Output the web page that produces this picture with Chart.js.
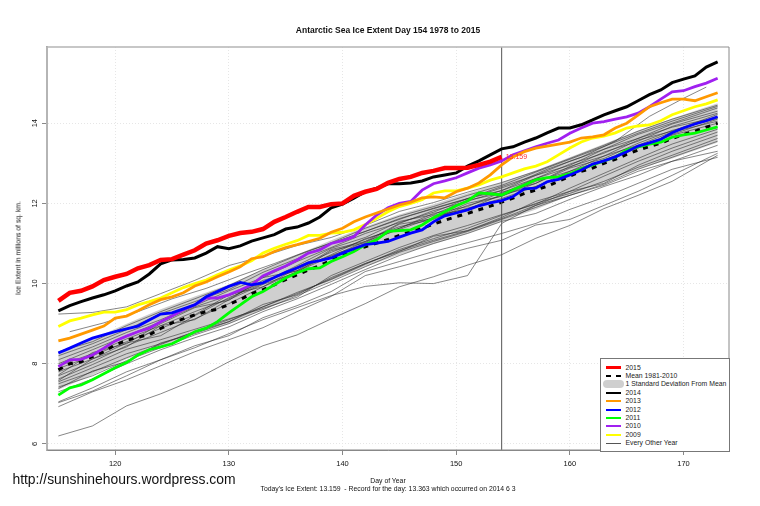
<!DOCTYPE html>
<html>
<head>
<meta charset="utf-8">
<script src="https://cdn.jsdelivr.net/npm/chart.js@4"></script>
<style>
  html, body { margin: 0; background: #fff; }
  #wrap { position: relative; width: 760px; height: 506px; overflow: hidden; font-family: "Liberation Sans", Arial, sans-serif; color: #111; }
  canvas { position: absolute; left: 0; top: 0; }
  .txt { position: absolute; white-space: pre; transform: translate(-50%, -50%); }
  #legend { position: absolute; left: 600px; top: 358px; width: 128px; height: 92px; background: #fff; border: 1px solid #777; }
  #legend .row { position: absolute; left: 24.5px; font-size: 6.85px; line-height: 8px; color: #222; white-space: pre; }
  #legend .sw { position: absolute; left: 5px; width: 15px; }
</style>
</head>
<body>
<div id="wrap">
  <canvas id="c" width="760" height="506"></canvas>
  <div class="txt" style="left:388px;top:30px;font-size:8.5px;font-weight:bold">Antarctic Sea Ice Extent Day 154 1978 to 2015</div>
  <div class="txt" style="left:18px;top:248px;font-size:6.85px;transform:translate(-50%,-50%) rotate(-90deg)">Ice Extent in millions of sq. km.</div>
  <div class="txt" style="left:388px;top:480px;font-size:6.85px">Day of Year</div>
  <div class="txt" style="left:388px;top:488px;font-size:6.85px">Today's Ice Extent: 13.159  - Record for the day: 13.363 which occurred on 2014 6 3</div>
  <div class="txt" style="left:124px;top:479px;font-size:13.9px">http://sunshinehours.wordpress.com</div>
  <div id="legend"></div>
</div>
<script>
/* thick lines: one value per day */
const days = [115,116,117,118,119,120,121,122,123,124,125,126,127,128,129,130,131,132,133,134,135,136,137,138,139,140,141,142,143,144,145,146,147,148,149,150,151,152,153,154,155,156,157,158,159,160,161,162,163,164,165,166,167,168,169,170,171,172,173];
const y2015 = [9.57,9.77,9.82,9.93,10.09,10.17,10.24,10.38,10.46,10.59,10.61,10.72,10.83,11.0,11.08,11.19,11.26,11.29,11.36,11.54,11.66,11.79,11.91,11.91,11.98,12.0,12.19,12.29,12.36,12.51,12.61,12.66,12.76,12.81,12.88,12.88,12.89,12.96,13.04,13.159];
const y2014 = [9.32,9.45,9.55,9.64,9.72,9.82,9.94,10.04,10.24,10.49,10.59,10.6,10.64,10.76,10.92,10.87,10.94,11.06,11.14,11.22,11.36,11.41,11.51,11.66,11.89,11.98,12.13,12.29,12.38,12.49,12.49,12.51,12.56,12.66,12.71,12.76,12.93,13.06,13.21,13.36,13.41,13.53,13.63,13.76,13.88,13.88,13.96,14.08,14.21,14.31,14.41,14.56,14.71,14.83,15.01,15.1,15.18,15.4,15.53];
const y2013 = [8.57,8.64,8.74,8.84,8.94,9.14,9.19,9.32,9.47,9.6,9.67,9.77,9.94,10.04,10.17,10.29,10.42,10.62,10.67,10.8,10.9,10.97,11.05,11.13,11.28,11.38,11.54,11.66,11.76,11.86,11.96,12.03,12.14,12.16,12.14,12.29,12.38,12.51,12.71,12.96,13.16,13.29,13.38,13.43,13.48,13.53,13.63,13.66,13.71,13.88,14.0,14.2,14.41,14.51,14.6,14.6,14.56,14.66,14.76];
const y2012 = [8.27,8.39,8.52,8.64,8.72,8.8,8.87,8.94,9.09,9.24,9.27,9.37,9.47,9.67,9.8,9.93,10.03,9.97,10.02,10.15,10.28,10.39,10.52,10.57,10.64,10.76,10.87,10.97,11.01,11.05,11.16,11.26,11.34,11.54,11.69,11.76,11.84,11.94,12.01,12.07,12.17,12.36,12.38,12.54,12.6,12.71,12.83,12.98,13.06,13.16,13.29,13.43,13.51,13.6,13.76,13.88,13.98,14.06,14.16];
const y2011 = [7.22,7.4,7.47,7.6,7.75,7.9,8.03,8.22,8.35,8.42,8.5,8.64,8.8,8.89,9.05,9.27,9.47,9.67,9.8,9.97,10.14,10.27,10.37,10.39,10.55,10.67,10.8,10.97,11.09,11.3,11.32,11.34,11.46,11.64,11.79,11.94,12.06,12.26,12.24,12.21,12.34,12.46,12.59,12.64,12.66,12.74,12.86,12.96,13.06,13.15,13.33,13.41,13.48,13.53,13.65,13.71,13.75,13.83,13.91];
const y2010 = [7.93,8.1,8.11,8.22,8.39,8.57,8.69,8.8,8.89,9.05,9.19,9.35,9.47,9.64,9.64,9.72,9.84,9.97,10.19,10.32,10.44,10.59,10.76,10.84,11.0,11.07,11.17,11.46,11.71,11.89,12.0,12.05,12.33,12.49,12.56,12.64,12.76,12.88,12.96,13.06,13.21,13.31,13.41,13.5,13.58,13.75,13.88,14.0,14.04,14.1,14.16,14.25,14.41,14.6,14.78,14.81,14.91,15.0,15.12];
const y2009 = [8.93,9.07,9.14,9.22,9.29,9.29,9.35,9.47,9.55,9.64,9.77,9.9,10.0,10.09,10.22,10.34,10.44,10.57,10.76,10.88,10.98,11.07,11.2,11.2,11.26,11.28,11.34,11.47,11.63,11.79,11.92,12.0,12.09,12.26,12.31,12.31,12.38,12.46,12.58,12.66,12.76,12.86,12.93,13.04,13.21,13.38,13.53,13.63,13.68,13.76,13.88,13.93,13.96,14.06,14.21,14.31,14.41,14.48,14.58];
const meanLine = [7.85,8.0,8.05,8.18,8.3,8.47,8.58,8.67,8.72,8.88,9.02,9.12,9.22,9.3,9.36,9.48,9.6,9.75,9.85,9.97,10.1,10.22,10.34,10.45,10.58,10.72,10.83,10.92,11.01,11.1,11.2,11.3,11.38,11.48,11.58,11.67,11.75,11.84,11.93,12.03,12.13,12.25,12.33,12.43,12.55,12.68,12.8,12.88,13.0,13.1,13.22,13.33,13.42,13.5,13.62,13.72,13.8,13.9,14.0];

/* band and thin lines: read every third day */
const thinDays = [115,118,121,124,127,130,133,136,139,142,145,148,151,154,157,160,163,166,169,173];
const sdUpper = [8.3,8.62,9.0,9.36,9.68,9.98,10.35,10.72,11.08,11.42,11.72,11.98,12.25,12.52,12.82,13.15,13.48,13.82,14.12,14.5];
const sdLower = [7.35,7.72,8.12,8.4,8.75,9.0,9.35,9.72,10.08,10.42,10.72,10.98,11.25,11.55,11.85,12.2,12.52,12.85,13.12,13.52];
const otherYears = [
  [6.2,6.45,6.95,7.25,7.6,8.05,8.45,8.72,9.12,9.5,9.92,10.17,10.46,10.72,11.13,11.45,11.87,12.2,12.55,13.2],
  [7.05,7.4,7.8,8.1,8.4,8.75,9.1,9.4,9.7,9.93,10.02,10.0,10.2,11.5,11.95,12.2,12.45,12.8,13.05,13.3],
  [6.93,7.3,7.6,7.95,8.3,8.6,8.9,9.3,9.68,10.2,10.42,10.65,10.88,11.08,11.46,11.6,11.95,12.3,12.7,13.25],
  [7.03,7.32,7.7,8.1,8.45,8.7,9.15,9.45,9.8,10.3,10.55,10.8,11.02,11.25,11.5,11.85,12.15,12.5,12.85,13.15],
  [7.3,7.62,8.0,8.35,8.65,8.92,9.3,9.62,9.98,10.35,10.7,11.0,11.25,11.55,11.75,12.1,12.42,12.7,13.05,13.45],
  [7.42,7.7,8.08,8.4,8.72,9.0,9.35,9.7,10.05,10.42,10.78,11.05,11.3,11.6,11.9,12.2,12.48,12.85,13.15,13.55],
  [7.5,7.8,8.15,8.48,8.8,9.1,9.42,9.78,10.1,10.48,10.85,11.12,11.38,11.7,12.0,12.25,12.55,12.9,13.2,13.62],
  [7.38,7.82,8.05,8.52,8.75,9.05,9.48,9.72,10.15,10.5,10.8,11.18,11.32,11.65,12.05,12.3,12.5,12.95,13.3,13.7],
  [7.55,7.9,8.25,8.5,8.8,9.05,9.42,9.75,10.12,10.5,10.82,11.08,11.32,11.62,11.95,12.3,12.68,13.05,13.38,13.78],
  [7.62,7.98,8.36,8.6,8.86,9.12,9.38,9.66,10.2,10.55,10.9,11.2,11.45,11.72,11.98,12.38,12.75,13.12,13.48,13.85],
  [7.7,8.05,8.45,8.78,9.12,9.5,9.92,10.3,10.68,11.05,11.35,11.65,11.88,12.12,12.42,12.72,13.05,13.38,13.7,14.0],
  [7.8,8.12,8.52,8.7,9.2,9.65,10.0,10.42,10.78,11.1,11.42,11.6,11.95,12.18,12.5,12.88,13.12,13.5,13.82,14.12],
  [7.88,8.2,8.55,8.88,9.22,9.72,9.92,10.38,10.7,11.0,11.38,11.7,11.85,12.22,12.42,12.8,13.08,13.42,13.72,14.1],
  [7.58,8.12,8.42,8.95,9.1,9.6,9.98,10.28,10.82,11.02,11.48,11.62,12.0,12.18,12.55,12.8,13.18,13.45,13.78,14.05],
  [7.95,8.25,8.62,8.95,9.3,9.62,10.08,10.32,10.72,11.12,11.38,11.75,11.92,12.28,12.5,12.92,13.18,13.58,13.8,14.22],
  [8.0,8.35,8.7,9.05,9.42,9.7,10.02,10.45,10.88,11.15,11.55,11.72,12.08,12.25,12.62,12.9,13.28,13.55,13.92,14.25],
  [7.72,8.28,8.5,9.0,9.4,9.58,10.15,10.32,10.85,11.05,11.5,11.82,12.05,12.32,12.62,12.98,13.25,13.62,13.9,14.15],
  [8.1,8.42,8.78,9.1,9.45,9.82,10.15,10.55,10.9,11.25,11.52,11.78,12.12,12.32,12.7,12.95,13.35,13.62,13.98,14.3],
  [8.2,8.5,8.85,9.25,9.55,9.85,10.28,10.62,11.0,11.3,11.62,11.88,12.12,12.42,12.7,13.05,13.35,13.72,14.0,14.38],
  [8.3,8.55,8.95,9.3,9.62,9.95,10.35,10.7,11.02,11.38,11.68,11.92,12.2,12.45,12.78,13.1,13.42,13.75,14.05,14.42],
  [9.24,9.28,9.42,9.75,10.08,10.45,10.68,10.95,11.15,11.45,11.8,12.02,12.28,12.52,12.8,13.12,13.45,13.8,14.1,14.45]
];
/* the 1978 style line that starts and stops a day early */
const shortDays = [116,119,122,125,128,131,134,137,140,143,146,149,152,155,158,161,164,167,170,172];
const shortLine = [8.8,9.02,9.3,9.62,9.88,10.2,10.5,10.82,11.1,11.4,11.7,11.95,12.2,12.48,12.85,13.15,13.55,14.17,14.62,14.9];

const todayDay = 154;
const todayLabel = "13.159";
const xTicks = [120,130,140,150,160,170];
const yTicks = [6,8,10,12,14];

const legendRows = [
  ["2015", "#ff0000", 3, null],
  ["Mean 1981-2010", "#000", 2.5, "dash"],
  ["1 Standard Deviation From Mean", "#cfcfcf", 8, "band"],
  ["2014", "#000", 2, null],
  ["2013", "#ff9900", 2, null],
  ["2012", "#0000ff", 2, null],
  ["2011", "#00ff00", 2, null],
  ["2010", "#a020f0", 2, null],
  ["2009", "#ffff00", 2, null],
  ["Every Other Year", "#555", 1, null]
];

const zip = (xs, ys) => ys.map((v, i) => ({ x: xs[i], y: v }));
const thick = (label, ys, color, width) => ({
  label, data: zip(days, ys), borderColor: color, borderWidth: width, pointRadius: 0, fill: false
});

const thinSets = otherYears.map((ys, i) => ({
  label: "Every Other Year " + i, data: zip(thinDays, ys), borderColor: "rgba(40,40,40,.8)", borderWidth: 0.7, pointRadius: 0, fill: false
}));
thinSets.push({ label: "short", data: zip(shortDays, shortLine), borderColor: "rgba(40,40,40,.8)", borderWidth: 0.7, pointRadius: 0, fill: false });

const yMin = 5.85, yMax = 15.9;
const datasets = [
  thick("2015", y2015, "#ff0000", 4.5),
  thick("2014", y2014, "#000000", 3),
  thick("2013", y2013, "#ff9900", 2.8),
  thick("2012", y2012, "#0000ff", 2.8),
  thick("2011", y2011, "#00ff00", 2.8),
  thick("2010", y2010, "#a020f0", 2.8),
  thick("2009", y2009, "#ffff00", 2.8),
  { label: "today", data: [{ x: todayDay, y: yMin }, { x: todayDay, y: yMax }], borderColor: "#555", borderWidth: 1, pointRadius: 0, fill: false },
  { ...thick("Mean 1981-2010", meanLine, "#000000", 3), borderDash: [5, 6] },
  ...thinSets
];
const lowerIdx = datasets.length;
datasets.push({ label: "sdLower", data: zip(thinDays, sdLower), borderWidth: 0, pointRadius: 0, fill: false });
datasets.push({ label: "sdUpper", data: zip(thinDays, sdUpper), borderWidth: 0, pointRadius: 0, backgroundColor: "#cfcfcf", fill: { target: lowerIdx } });

/* box around the plot + red label at the end of 2015 */
const plotExtras = {
  id: "plotExtras",
  afterDraw(chart) {
    const { ctx, chartArea: a, scales } = chart;
    const edge = (x1, y1, x2, y2, color, w) => {
      ctx.strokeStyle = color;
      ctx.lineWidth = w;
      ctx.beginPath();
      ctx.moveTo(x1, y1);
      ctx.lineTo(x2, y2);
      ctx.stroke();
    };
    ctx.save();
    edge(a.left, a.top, a.right, a.top, "#b5b5b5", 1.5);
    edge(a.left, a.top, a.left, a.bottom, "#b5b5b5", 2);
    edge(a.right, a.top, a.right, a.bottom, "#888", 1);
    edge(a.left, a.bottom, a.right, a.bottom, "#888", 1);
    const px = scales.x.getPixelForValue(todayDay);
    const py = scales.y.getPixelForValue(y2015[y2015.length - 1]);
    ctx.fillStyle = "#ff3030";
    ctx.font = "7px 'Liberation Sans'";
    ctx.textBaseline = "middle";
    ctx.fillText(todayLabel, px + 4, py);
    ctx.restore();
  }
};

new Chart(document.getElementById("c"), {
  type: "line",
  data: { datasets },
  plugins: [plotExtras],
  options: {
    responsive: false, animation: false,
    layout: { padding: { top: 47, right: 31, left: 0, bottom: 0 } },
    plugins: { legend: { display: false }, title: { display: false }, tooltip: { enabled: false } },
    elements: { line: { tension: 0 } },
    scales: {
      x: {
        type: "linear", min: 114, max: 174,
        afterFit: (s) => { s.height = 56; },
        afterBuildTicks: (s) => { s.ticks = xTicks.map((v) => ({ value: v })); },
        ticks: { color: "#111", font: { size: 7.5, family: "'Liberation Sans'" }, maxRotation: 0, padding: 4 },
        grid: { color: "#e6e6e6", tickColor: "#888", tickLength: 5 },
        border: { color: "#888", width: 1, dash: [1, 2] }
      },
      y: {
        type: "linear", min: yMin, max: yMax,
        afterFit: (s) => { s.width = 47; },
        afterBuildTicks: (s) => { s.ticks = yTicks.map((v) => ({ value: v })); },
        ticks: { color: "#111", font: { size: 7.5, family: "'Liberation Sans'" }, minRotation: 90, maxRotation: 90, padding: 3, crossAlign: "center" },
        grid: { color: "#e6e6e6", tickColor: "#888", tickLength: 5 },
        border: { color: "#aaa", width: 2, dash: [1, 2] }
      }
    }
  }
});

/* legend: real text, same order as the original box */
const legendEl = document.getElementById("legend");
legendRows.forEach((r, i) => {
  const cy = 8.5 + i * 8.4;
  const sw = document.createElement("div");
  sw.className = "sw";
  sw.style.top = (cy - r[2] / 2) + "px";
  sw.style.height = r[2] + "px";
  if (r[3] === "dash") {
    sw.style.background = "repeating-linear-gradient(90deg,#000 0 5px,transparent 5px 10px)";
  } else if (r[3] === "band") {
    sw.style.background = r[1];
    sw.style.borderRadius = "4px";
    sw.style.left = "2px";
    sw.style.width = "21px";
  } else {
    sw.style.background = r[1];
  }
  legendEl.appendChild(sw);
  const t = document.createElement("div");
  t.className = "row";
  t.style.top = (cy - 4) + "px";
  t.textContent = r[0];
  legendEl.appendChild(t);
});
</script>
</body>
</html>
